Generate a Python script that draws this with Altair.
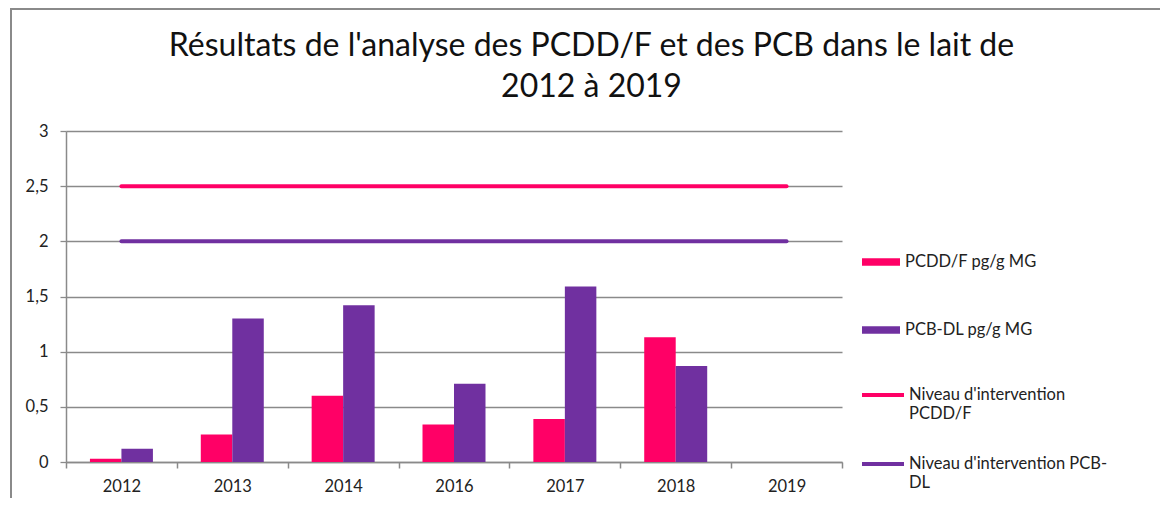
import altair as alt
import pandas as pd

# ---- data ----
years = ["2012", "2013", "2014", "2016", "2017", "2018", "2019"]
pcddf = [0.03, 0.25, 0.60, 0.34, 0.39, 1.13, None]
pcbdl = [0.12, 1.30, 1.42, 0.71, 1.59, 0.87, None]
level_pcddf = [2.5, 2.5, 2.5, 2.5, 2.5, 2.5, 2.5]
level_pcbdl = [2.0, 2.0, 2.0, 2.0, 2.0, 2.0, 2.0]
bar_series = ["PCDD/F pg/g MG", "PCB-DL pg/g MG"]
line_series = ["Niveau d'intervention PCDD/F", "Niveau d'intervention PCB-DL"]
y_ticks = [0, 0.5, 1, 1.5, 2, 2.5, 3]
title_lines = ["Résultats de l'analyse des PCDD/F et des PCB dans le lait de", "2012 à 2019"]

PINK = "#FF0066"
PURPLE = "#7030A0"
GRID = "#8A8A8A"
FONT = "Lato"

bars_df = pd.DataFrame(
    [{"annee": y, "serie": bar_series[0], "valeur": v} for y, v in zip(years, pcddf)]
    + [{"annee": y, "serie": bar_series[1], "valeur": v} for y, v in zip(years, pcbdl)]
)
lines_df = pd.DataFrame(
    [{"annee": y, "niveau": line_series[0], "valeur": v} for y, v in zip(years, level_pcddf)]
    + [{"annee": y, "niveau": line_series[1], "valeur": v} for y, v in zip(years, level_pcbdl)]
)

W, H = 776, 331
PAD = {"left": 58, "top": 123, "right": 318, "bottom": 36}

x_enc = alt.X(
    "annee:N",
    sort=years,
    scale=alt.Scale(domain=years, paddingInner=0, paddingOuter=0),
    axis=alt.Axis(
        title=None, labelAngle=0, tickBand="extent", ticks=True, tickSize=6,
        tickColor=GRID, domainColor=GRID, domainWidth=1.5, tickWidth=1.5,
        labelFont=FONT, labelFontSize=16.5, labelColor="#222222", labelPadding=10,
        grid=False,
    ),
)
y_scale = alt.Scale(domain=[0, 3], nice=False, zero=True)
y_axis = alt.Axis(
    title=None, values=y_ticks,
    labelExpr="replace(format(datum.value, '~g'), '.', ',')",
    grid=True, gridColor=GRID, gridWidth=1.3,
    domain=True, domainColor=GRID, domainWidth=1.5,
    ticks=True, tickSize=6, tickColor=GRID, tickWidth=1.3,
    labelFont=FONT, labelFontSize=16.5, labelColor="#222222", labelPadding=12,
)

bars = alt.Chart(bars_df).mark_bar().encode(
    x=x_enc,
    xOffset=alt.XOffset(
        "serie:N", sort=bar_series,
        scale=alt.Scale(domain=bar_series, paddingInner=0, paddingOuter=0.76),
    ),
    y=alt.Y("valeur:Q", scale=y_scale, axis=y_axis),
    color=alt.Color(
        "serie:N",
        scale=alt.Scale(domain=bar_series, range=[PINK, PURPLE]),
        legend=alt.Legend(
            title=None, orient="none", legendX=796, legendY=112,
            symbolType="M-1,-0.2H1V0.2H-1Z", symbolSize=1444,
            symbolStrokeWidth=0, rowPadding=40, labelOffset=5, padding=0,
            labelFont=FONT, labelFontSize=16.5, labelColor="#222222", labelLimit=300,
        ),
    ),
)

lines = alt.Chart(lines_df).mark_line(strokeWidth=4, strokeCap="round").encode(
    x=x_enc,
    y=alt.Y("valeur:Q", scale=y_scale, axis=y_axis),
    stroke=alt.Stroke(
        "niveau:N",
        scale=alt.Scale(domain=line_series, range=[PINK, PURPLE]),
        legend=alt.Legend(
            title=None, orient="none", legendX=794, legendY=241,
            symbolType="stroke", symbolSize=1764, symbolStrokeWidth=4,
            rowPadding=19, labelOffset=3, padding=0,
            labelExpr="datum.label == \"Niveau d'intervention PCDD/F\" ? [\"Niveau d'intervention\", 'PCDD/F'] : [\"Niveau d'intervention PCB-\", 'DL']",
            labelFont=FONT, labelFontSize=16.5, labelColor="#222222", labelLimit=300,
        ),
    ),
)

frame_df = pd.DataFrame({"k": [0]})
frame = alt.Chart(frame_df).mark_rect(fill=None, stroke=GRID, strokeWidth=2, clip=False).encode(
    x=alt.value(-55), x2=alt.value(W + 330),
    y=alt.value(-122), y2=alt.value(H + 60),
)

chart = alt.layer(frame, bars, lines).resolve_scale(
    color="independent", stroke="independent"
).properties(
    width=W, height=H,
    autosize=alt.AutoSizeParams(type="none"),
    padding=PAD,
    title=alt.TitleParams(
        text=title_lines, anchor="middle", frame="bounds", offset=-96,
        font=FONT, fontSize=32, fontWeight="normal", color="#111111", lineHeight=41,
    ),
).configure_view(stroke=None)

chart.save("out.html", embed_options={"renderer": "svg", "actions": False})
